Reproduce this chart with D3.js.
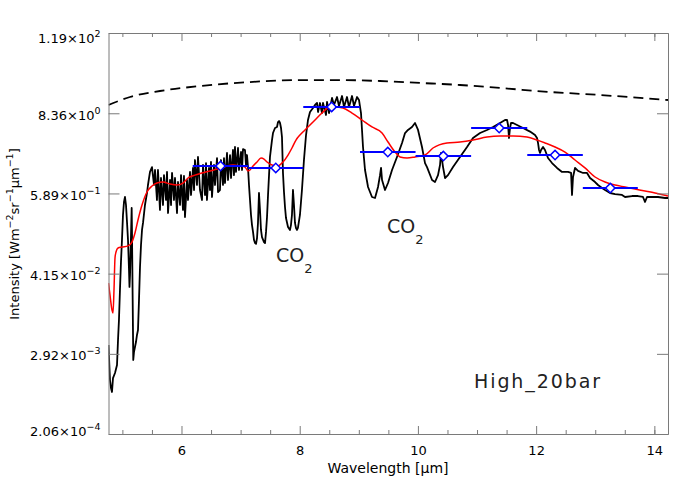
<!DOCTYPE html>
<html><head><meta charset="utf-8">
<script src="https://cdn.jsdelivr.net/npm/d3@7"></script>
<style>body{margin:0;background:#fff} svg{display:block} text{font-family:"DejaVu Sans",sans-serif}</style>
</head><body><svg id="c" width="700" height="500"></svg>
<script>
// Observed spectrum [wavelength um, intensity]
const spectrum = [
[4.765,0.00391],[4.790,0.00123],[4.807,0.000944],[4.824,0.000827],[4.841,0.00131],[4.875,0.00155],[4.909,0.00202],[4.926,0.00462],[4.942,0.00894],[4.959,0.0241],
[4.976,0.0610],[4.993,0.126],[5.010,0.289],[5.027,0.444],[5.044,0.524],[5.061,0.402],[5.078,0.229],[5.095,0.126],[5.112,0.0468],[5.120,0.0267],
[5.129,0.0396],[5.146,0.149],[5.157,0.364],[5.162,0.176],[5.174,0.0173],[5.184,0.00238],[5.196,0.00310],[5.213,0.00366],[5.230,0.00432],[5.247,0.00545],
[5.264,0.00642],[5.281,0.0173],[5.298,0.0517],[5.315,0.107],[5.332,0.176],[5.349,0.222],[5.382,0.402],[5.416,0.598],[5.433,0.779],[5.467,1.20],[5.501,1.41],
[5.535,0.779],[5.552,1.28],[5.585,0.474],[5.602,1.28],[5.636,0.341],[5.653,0.982],[5.687,0.402],[5.704,1.08],[5.738,0.474],[5.755,1.20],
[5.772,0.308],[5.806,0.919],[5.823,0.402],[5.840,1.16],[5.873,0.474],[5.890,0.982],[5.924,0.308],[5.941,0.860],[5.975,0.402],[5.992,1.08],
[6.025,0.341],[6.042,1.05],[6.059,0.270],[6.093,0.919],[6.110,0.474],[6.144,1.20],[6.161,0.560],[6.195,1.37],[6.212,0.660],[6.228,1.78],
[6.262,0.779],[6.279,1.97],[6.313,0.660],[6.347,0.474],[6.364,1.51],[6.398,0.560],[6.415,1.61],[6.431,0.474],[6.465,1.37],[6.482,0.660],
[6.499,1.67],[6.516,0.524],[6.550,1.51],[6.567,0.779],[6.601,1.90],[6.618,0.618],[6.651,0.660],[6.668,1.78],[6.702,0.779],[6.719,1.90],
[6.736,0.832],[6.770,2.25],[6.787,0.919],[6.821,2.10],[6.838,0.982],[6.871,2.48],[6.888,1.08],[6.905,2.74],[6.922,1.20],[6.956,2.65],
[6.973,1.28],[7.007,2.32],[7.024,1.28],[7.041,2.56],[7.074,2.48],[7.091,1.51],[7.108,2.10],[7.125,1.41],
[7.142,0.779],[7.159,0.474],[7.176,0.289],[7.193,0.207],[7.210,0.165],[7.227,0.126],[7.244,0.114],[7.261,0.111],[7.278,0.135],[7.294,0.222],
[7.311,0.598],[7.328,0.341],[7.345,0.176],[7.362,0.139],[7.396,0.118],[7.413,0.114],[7.430,0.165],[7.447,0.270],[7.464,0.560],[7.481,1.08],
[7.497,1.97],[7.531,3.45],[7.548,4.35],[7.582,5.13],[7.616,5.31],[7.633,6.26],[7.650,6.47],[7.667,6.06],[7.684,5.13],[7.700,3.81],
[7.717,1.16],[7.734,0.618],[7.751,0.376],[7.768,0.261],[7.802,0.194],[7.835,0.176],[7.852,0.207],[7.869,0.289],[7.886,0.660],[7.903,0.402],
[7.920,0.222],[7.937,0.188],[7.954,0.176],[7.970,0.188],[8.004,0.289],[8.038,0.660],[8.072,1.78],[8.107,4.07],[8.140,6.69],[8.174,8.72],
[8.225,9.95],[8.259,10.99],[8.293,11.74],[8.310,8.72],[8.343,11.74],[8.377,8.43],[8.394,11.74],[8.445,7.90],[8.462,12.14],[8.496,8.43],
[8.547,13.86],[8.580,10.99],[8.631,14.32],[8.665,10.63],[8.716,14.80],[8.750,10.28],[8.800,14.32],[8.834,10.28],[8.885,14.80],[8.919,10.63],
[8.970,14.32],[9.003,12.97],[9.037,8.43],[9.071,2.74],[9.105,1.28],[9.156,0.729],[9.223,0.524],[9.274,0.507],[9.325,0.729],[9.359,1.08],
[9.376,1.37],[9.393,0.919],[9.443,0.660],[9.494,0.832],[9.562,1.28],[9.646,1.97],[9.731,3.13],[9.782,4.35],[9.832,4.81],[9.900,5.31],
[9.951,6.06],[10.002,4.81],[10.069,2.74],[10.120,1.61],[10.154,1.41],[10.239,0.919],[10.289,0.860],[10.340,1.08],[10.374,1.51],[10.391,2.25],
[10.408,1.78],[10.425,1.41],[10.459,0.982],[10.509,1.08],[10.594,1.41],[10.712,1.97],[10.831,2.74],[10.932,3.69],[11.051,4.35],[11.169,4.81],
[11.271,5.31],[11.389,6.06],[11.474,6.69],[11.508,6.69],[11.525,5.67],[11.541,3.69],[11.558,5.13],[11.575,6.06],[11.609,6.06],[11.677,5.67],
[11.778,5.13],[11.897,4.56],[11.981,4.07],[12.015,3.69],[12.032,3.13],[12.049,2.48],[12.066,2.25],[12.083,2.48],[12.117,2.74],[12.150,2.48],
[12.201,1.90],[12.269,1.61],[12.353,1.37],[12.438,1.20],[12.540,1.20],[12.591,1.16],[12.607,0.560],[12.624,1.015],[12.658,1.37],[12.709,1.24],
[12.794,1.16],[12.861,1.16],[12.912,0.982],[12.997,0.860],[13.047,0.779],[13.115,0.705],[13.166,0.660],[13.250,0.598],[13.335,0.578],[13.453,0.560],
[13.504,0.524],[13.623,0.541],[13.723,0.541],[13.808,0.524],[13.842,0.444],[13.876,0.524],[13.961,0.524],[14.062,0.524],[14.181,0.507],[14.231,0.507]
];
// Smoothed model (red)
const model = [
[4.765,0.0304],[4.790,0.0205],[4.824,0.01245],[4.841,0.01128],[4.858,0.0241],[4.875,0.0696],[4.892,0.0849],[4.926,0.0969],[4.993,0.100],[5.095,0.104],
[5.162,0.118],[5.213,0.159],[5.264,0.245],[5.332,0.402],[5.416,0.618],[5.501,0.754],[5.585,0.832],[5.687,0.860],[5.806,0.805],[5.924,0.779],
[6.025,0.832],[6.110,0.982],[6.228,1.08],[6.347,1.16],[6.482,1.24],[6.601,1.32],[6.685,1.37],[6.770,1.46],[6.871,1.51],[6.990,1.46],
[7.074,1.41],[7.125,1.24],[7.159,1.28],[7.210,1.46],[7.278,1.67],[7.345,1.90],[7.396,1.84],[7.447,1.67],[7.531,1.51],[7.633,1.46],
[7.717,1.67],[7.802,2.10],[7.869,2.65],[7.937,3.45],[8.004,4.07],[8.089,4.81],[8.174,5.67],[8.259,6.69],[8.377,8.43],[8.479,9.95],
[8.597,10.28],[8.733,9.95],[8.885,8.43],[9.054,6.69],[9.223,5.31],[9.393,4.35],[9.494,3.23],[9.613,2.32],[9.697,1.97],[9.816,1.90],
[9.951,1.97],[10.120,2.10],[10.255,2.65],[10.492,3.13],[10.712,3.23],[10.932,3.45],[11.169,3.81],[11.389,3.94],[11.609,3.94],[11.846,3.81],
[12.015,3.45],[12.150,3.13],[12.320,2.74],[12.489,2.32],[12.658,1.78],[12.827,1.37],[12.997,1.015],[13.166,0.860],[13.335,0.779],[13.504,0.729],
[13.673,0.682],[13.842,0.639],[14.011,0.598],[14.231,0.541]
];
// Blackbody (dashed)
const blackbody = [
[4.765,10.99],[5.129,14.32],[5.636,17.46],[6.313,20.6],[7.159,23.5],[8.004,25.1],[8.68,25.1],[9.359,24.3],[10.036,22.8],[10.712,21.3],
[11.389,19.3],[12.235,16.9],[13.08,15.3],[14.231,12.97]
];
// Band-averaged points (blue)
const bandLo  = [6.19, 7.13, 8.06, 9.02, 9.96, 10.90, 11.85, 12.79];
const bandHi  = [7.13, 8.06, 9.02, 9.96, 10.90, 11.85, 12.79, 13.72];
const bandVal = [1.46, 1.37, 10.3, 2.32, 2.03, 5.13, 2.10, 0.705];
// Axis ticks
const xMajor = [6, 8, 10, 12, 14];
const xMinor = [5, 5.5, 6.5, 7, 7.5, 8.5, 9, 9.5, 10.5, 11, 11.5, 12.5, 13, 13.5, 14];
const yTickVals = [2.06e-4, 2.92e-3, 4.15e-2, 5.89e-1, 8.36, 119];
const yTickMant = ["2.06", "2.92", "4.15", "5.89", "8.36", "1.19"];
const yTickExp  = ["\u22124", "\u22123", "\u22122", "\u22121", "0", "2"];

const svg = d3.select("#c");
const L = 108.5, R = 668, T = 33, B = 434;
const x = d3.scaleLinear().domain([4.765, 14.231]).range([L, R]);
const y = d3.scaleLog().domain([2.06e-4, 119]).range([B, T]);
const axisCol = "#7a7a7a";

svg.append("defs").append("clipPath").attr("id", "clip")
  .append("rect").attr("x", L).attr("y", T).attr("width", R - L).attr("height", B - T);
const plot = svg.append("g").attr("clip-path", "url(#clip)");

const line = d3.line().x(d => x(d[0])).y(d => y(d[1]));
const smoothLine = d3.line().x(d => x(d[0])).y(d => y(d[1])).curve(d3.curveMonotoneX);

plot.append("path").datum(blackbody).attr("d", smoothLine)
  .attr("fill", "none").attr("stroke", "#000").attr("stroke-width", 1.8).attr("stroke-dasharray", "10,6");

plot.append("path").datum(spectrum).attr("d", line)
  .attr("fill", "none").attr("stroke", "#000").attr("stroke-width", 1.8).attr("stroke-linejoin", "round");

plot.append("path").datum(model).attr("d", smoothLine)
  .attr("fill", "none").attr("stroke", "#ff0000").attr("stroke-width", 1.5);

const bands = bandVal.map((v, i) => ({lo: bandLo[i], hi: bandHi[i], v}));
plot.selectAll("line.band").data(bands).enter().append("line").attr("class", "band")
  .attr("x1", d => x(d.lo)).attr("x2", d => x(d.hi))
  .attr("y1", d => y(d.v)).attr("y2", d => y(d.v))
  .attr("stroke", "#0000ff").attr("stroke-width", 2);
const diamond = d3.symbol().type(d3.symbolSquare).size(44);
plot.selectAll("path.dia").data(bands).enter().append("path").attr("class", "dia")
  .attr("d", diamond)
  .attr("transform", d => `translate(${x((d.lo + d.hi) / 2)},${y(d.v)}) rotate(45)`)
  .attr("fill", "#fff").attr("stroke", "#0000ff").attr("stroke-width", 1.5);

// Axes
function style(g) {
  g.selectAll(".domain").attr("stroke", axisCol);
  g.selectAll(".tick line").attr("stroke", axisCol);
  return g;
}
const gxb = svg.append("g").attr("transform", `translate(0,${B})`)
  .call(d3.axisBottom(x).tickValues(xMajor).tickSize(-8).tickSizeOuter(0).tickPadding(12).tickFormat(d3.format("d")));
gxb.selectAll("text").attr("font-size", 13).attr("fill", "#000").attr("font-family", "DejaVu Sans");
style(gxb);
style(svg.append("g").attr("transform", `translate(0,${B})`)
  .call(d3.axisBottom(x).tickValues(xMinor).tickSize(-4).tickSizeOuter(0).tickFormat("")));
style(svg.append("g").attr("transform", `translate(0,${T})`)
  .call(d3.axisTop(x).tickValues(xMajor).tickSize(-8).tickSizeOuter(0).tickFormat("")));
style(svg.append("g").attr("transform", `translate(0,${T})`)
  .call(d3.axisTop(x).tickValues(xMinor).tickSize(-4).tickSizeOuter(0).tickFormat("")));
style(svg.append("g").attr("transform", `translate(${L},0)`)
  .call(d3.axisLeft(y).tickValues(yTickVals).tickSize(-11).tickSizeOuter(0).tickFormat("")));
style(svg.append("g").attr("transform", `translate(${R},0)`)
  .call(d3.axisRight(y).tickValues(yTickVals).tickSize(-11).tickSizeOuter(0).tickFormat("")));

// Y tick labels with exponents
yTickVals.forEach((v, i) => {
  const dy = i === 0 ? 2 : (i === yTickVals.length - 1 ? 10 : 6.5);
  const t = svg.append("text").attr("x", 100.5).attr("y", y(v) + dy)
    .attr("text-anchor", "end").attr("font-size", 13).attr("fill", "#000");
  t.append("tspan").text(yTickMant[i] + "\u00d710");
  t.append("tspan").attr("font-size", 9.5).attr("dy", -6).text(yTickExp[i]);
});

// Axis titles
svg.append("text").attr("x", 388).attr("y", 473).attr("text-anchor", "middle")
  .attr("font-size", 14).attr("fill", "#000").text("Wavelength [\u03bcm]");
const yl = svg.append("text").attr("transform", "translate(19,234) rotate(-90)")
  .attr("text-anchor", "middle").attr("font-size", 13).attr("fill", "#000");
[["Intensity [Wm", 0], ["\u22122", 1], ["sr", 0], ["\u22121", 1], ["\u03bcm", 0], ["\u22121", 1], ["]", 0]].forEach(([s, sup], i, arr) => {
  const prevSup = i > 0 ? arr[i - 1][1] : 0;
  const ts = yl.append("tspan").text(s);
  if (sup && !prevSup) ts.attr("dy", -6).attr("font-size", 9.5);
  else if (!sup && prevSup) ts.attr("dy", 6);
});

// Annotations
function co2(px, py) {
  const t = svg.append("text").attr("x", px).attr("y", py).attr("font-size", 19).attr("fill", "#222");
  t.append("tspan").text("CO");
  t.append("tspan").attr("font-size", 13).attr("dy", 11).text("2");
}
co2(276, 262);
co2(387, 233);
svg.append("text").attr("x", 474).attr("y", 388).attr("font-size", 19).attr("fill", "#222")
  .attr("textLength", 126).attr("lengthAdjust", "spacing").text("High_20bar");
</script></body></html>
